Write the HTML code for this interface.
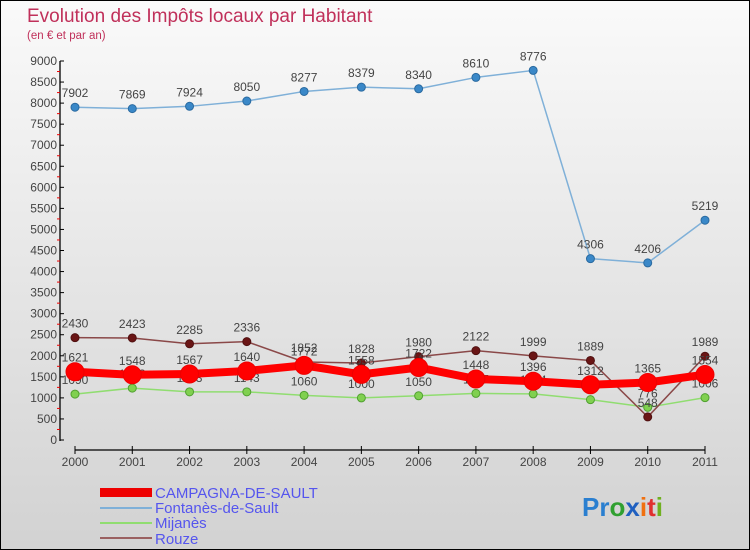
<!DOCTYPE html>
<html><head><meta charset="utf-8"><style>
body{margin:0;}
svg{display:block;font-family:"Liberation Sans",sans-serif;}
</style></head><body>
<svg id="chart" width="750" height="550" xmlns="http://www.w3.org/2000/svg">
<defs><linearGradient id="bg" x1="0" y1="0" x2="0" y2="1"><stop offset="0" stop-color="#fafafa"/><stop offset="1" stop-color="#d2d2d2"/></linearGradient></defs>
<rect x="0.5" y="0.5" width="749" height="549" fill="url(#bg)" stroke="#000"/>
<text x="27" y="22" font-size="19" fill="#c0305a">Evolution des Impôts locaux par Habitant</text>
<text x="27" y="39" font-size="11.5" fill="#c0305a">(en € et par an)</text>
<g id="axes"></g>
<g id="series"></g>
<g>
<rect x="100" y="488" width="52" height="9" fill="#e00"/>
<text x="155" y="498" font-size="15" fill="#5555ee">CAMPAGNA-DE-SAULT</text>
<rect x="100" y="507" width="52" height="2" fill="#7fb0d8"/>
<text x="155" y="513" font-size="15" fill="#5555ee">Fontanès-de-Sault</text>
<rect x="100" y="522" width="52" height="2" fill="#90dd70"/>
<text x="155" y="528" font-size="15" fill="#5555ee">Mijanès</text>
<rect x="100" y="537" width="52" height="2" fill="#9a6060"/>
<text x="155" y="544" font-size="15" fill="#5555ee">Rouze</text>
</g>
<text x="582" y="516" font-size="26" font-weight="bold"><tspan fill="#2a7fd0">Pr</tspan><tspan fill="#30a030">o</tspan><tspan fill="#2060c0">x</tspan><tspan fill="#f07010">i</tspan><tspan fill="#e03030">t</tspan><tspan fill="#70b020">i</tspan></text>
</svg>
<script>
const years=["2000","2001","2002","2003","2004","2005","2006","2007","2008","2009","2010","2011"];
const campagna=[1621,1548,1567,1640,1772,1558,1722,1448,1396,1312,1365,1554];
const fontanes=[7902,7869,7924,8050,8277,8379,8340,8610,8776,4306,4206,5219];
const mijanes=[1090,1232,1143,1143,1060,1000,1050,1107,1094,958,776,1006];
const rouze=[2430,2423,2285,2336,1852,1828,1980,2122,1999,1889,548,1989];
const yTicks=[0,500,1000,1500,2000,2500,3000,3500,4000,4500,5000,5500,6000,6500,7000,7500,8000,8500,9000];
const NS="http://www.w3.org/2000/svg";
const xs=i=>75+i*(630/11);
const ys=v=>440-v*(379/9000);
function mk(t,a,p){const e=document.createElementNS(NS,t);for(const k in a)e.setAttribute(k,a[k]);p.appendChild(e);return e;}
const ax=document.getElementById('axes');
let l=mk('line',{x1:60,y1:61,x2:60,y2:441,stroke:'#000','stroke-width':1.3},ax);


l=mk('line',{x1:75,y1:450,x2:705,y2:450,stroke:'#000','stroke-width':1.3},ax);


yTicks.forEach(v=>{
 mk('line',{x1:60,y1:ys(v),x2:64,y2:ys(v),stroke:'#000'},ax);
 if(v<9000)mk('line',{x1:57,y1:ys(v+250),x2:60,y2:ys(v+250),stroke:'#e00'},ax);
 const t=mk('text',{x:57,y:ys(v)+4,'font-size':12,fill:'#444','text-anchor':'end'},ax);t.textContent=v;
 
 
});
years.forEach((y,i)=>{
 mk('line',{x1:xs(i),y1:446,x2:xs(i),y2:454,stroke:'#000'},ax);
 const t=mk('text',{x:xs(i),y:466,'font-size':12,fill:'#444','text-anchor':'middle'},ax);t.textContent=y;
 
 
});
const sg=document.getElementById('series');
function draw(data,name,color,w,r,dot,stroke){
 const g=mk('g',{},sg);
 
 
 const p=mk('polyline',{points:data.map((v,i)=>xs(i)+','+ys(v)).join(' '),fill:'none',stroke:color,'stroke-width':w,'stroke-linejoin':'round'},g);
 
 
 data.forEach((v,i)=>{
  const c=mk('circle',{cx:xs(i),cy:ys(v),r:r,fill:dot,stroke:stroke,'stroke-width':1},g);
  
  
  const t=mk('text',{x:xs(i),y:ys(v)-10,'font-size':12,fill:'#444','text-anchor':'middle'},g);t.textContent=v;
  
  
 });
}
draw(fontanes,'fontanes','#7fb0d8',1.5,4,'#3a88c8','#2a6aa0');
draw(mijanes,'mijanes','#90dd70',1.5,4,'#80d050','#50a030');
draw(rouze,'rouze','#8a4848',1.5,4,'#6a1515','#501010');
draw(campagna,'campagna','#f00',8,9,'#f00','#e00');
</script>
</body></html>
